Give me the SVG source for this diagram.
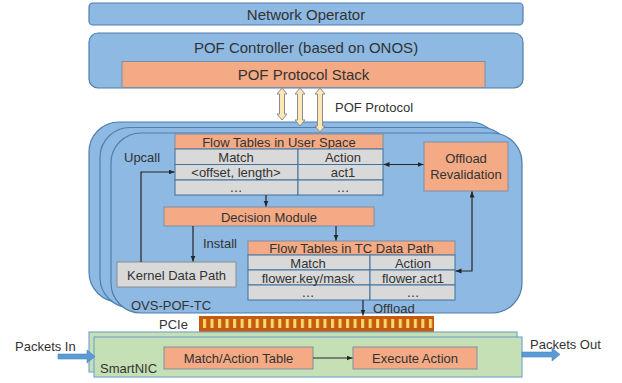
<svg xmlns="http://www.w3.org/2000/svg" width="622" height="383" viewBox="0 0 622 383">
<defs>
<style>
text{font-family:"Liberation Sans",Arial,sans-serif;font-size:13px;fill:#333}
.big{font-size:15px}
.c{text-anchor:middle}
.blue{fill:#8DB9E2;stroke:#4E7FAF;stroke-width:1.2}
.sal{fill:#F4AA84;stroke:#7F8FA6;stroke-width:1}
.cell{fill:#D9D9D9;stroke:#41719C;stroke-width:1}
.green{fill:#C5E0B4;stroke:#7AA6CF;stroke-width:1.2}
.cream{fill:#FFE7B8;stroke:#8C8C8C;stroke-width:1}
.blk{fill:#5B9BD5;stroke:#4E86BC;stroke-width:0.6}
.ln{fill:none;stroke:#262626;stroke-width:1.2}
</style>
<marker id="ah" markerUnits="userSpaceOnUse" markerWidth="7" markerHeight="6" refX="6" refY="2.5" orient="auto-start-reverse"><path d="M0,0 L6,2.5 L0,5 z" fill="#262626"/></marker>
<pattern id="pcie" patternUnits="userSpaceOnUse" x="202" y="0" width="7.53" height="383"><rect x="1" y="0" width="3" height="383" fill="#FFD966"/></pattern>
</defs>

<g id="network-operator">
<rect class="blue" x="89" y="3" width="434" height="22" rx="4"/>
<text class="big c" x="306" y="19.5">Network Operator</text>
</g>

<g id="pof-controller">
<rect class="blue" x="89" y="33" width="434" height="55" rx="9"/>
<text class="big c" x="306" y="53">POF Controller (based on ONOS)</text>
</g>
<g id="pof-protocol-stack">
<rect class="sal" x="122" y="61.5" width="363" height="26"/>
<text class="big c" x="303.5" y="80">POF Protocol Stack</text>
</g>

<g id="ovs-pof-tc">
<rect class="blue" x="89" y="122" width="411" height="180" rx="30"/>
<rect class="blue" x="100" y="127.5" width="411" height="180" rx="30"/>
<rect class="blue" x="111" y="133" width="411" height="180" rx="30"/>
<text x="131" y="310">OVS-POF-TC</text>
<text x="124" y="162">Upcall</text>
<text x="203" y="247.5">Install</text>
<text x="373" y="313">Offload</text>
</g>

<g id="pof-protocol-arrows">
<path class="cream" d="M282,88 L287,94 L284.5,94 L284.5,114 L287,114 L282,120 L277,114 L279.5,114 L279.5,94 L277,94 Z"/>
<path class="cream" d="M300,88 L305,94 L302.5,94 L302.5,120 L305,120 L300,126 L295,120 L297.5,120 L297.5,94 L295,94 Z"/>
<path class="cream" d="M320,88 L325,94 L322.5,94 L322.5,126 L325,126 L320,132 L315,126 L317.5,126 L317.5,94 L315,94 Z"/>
<text x="335" y="112">POF Protocol</text>
</g>

<g id="flow-tables-user-space">
<rect class="sal" x="175" y="134" width="208" height="15"/>
<text class="c" x="279" y="146.5">Flow Tables in User Space</text>
<rect class="cell" x="175" y="149" width="123" height="15.5"/>
<rect class="cell" x="298" y="149" width="85" height="15.5"/>
<rect class="cell" x="175" y="164.5" width="123" height="15.5"/>
<rect class="cell" x="298" y="164.5" width="85" height="15.5"/>
<rect class="cell" x="175" y="180" width="123" height="15"/>
<rect class="cell" x="298" y="180" width="85" height="15"/>
<text class="c" x="236" y="161.5">Match</text>
<text class="c" x="343" y="162">Action</text>
<text class="c" x="236" y="177">&lt;offset, length&gt;</text>
<text class="c" x="343" y="177">act1</text>
<text class="c" x="236" y="192">…</text>
<text class="c" x="343" y="192">…</text>
</g>

<g id="offload-revalidation">
<rect class="sal" x="424" y="142" width="84" height="49"/>
<text class="c" x="466" y="162.5">Offload</text>
<text class="c" x="466" y="178.5">Revalidation</text>
</g>

<g id="decision-module">
<rect class="sal" x="164" y="207" width="210" height="19"/>
<text class="c" x="269" y="221.5">Decision Module</text>
</g>

<g id="kernel-data-path">
<rect x="117" y="262" width="119" height="25" fill="#D9D9D9" stroke="#8C8C8C" stroke-width="1"/>
<text class="c" x="176.5" y="279.5">Kernel Data Path</text>
</g>

<g id="flow-tables-tc">
<rect class="sal" x="248" y="241" width="207" height="14"/>
<text class="c" x="351.5" y="252.5">Flow Tables in TC Data Path</text>
<rect class="cell" x="248" y="255" width="122" height="15"/>
<rect class="cell" x="370" y="255" width="85" height="15"/>
<rect class="cell" x="248" y="270" width="122" height="15"/>
<rect class="cell" x="370" y="270" width="85" height="15"/>
<rect class="cell" x="248" y="285" width="122" height="15"/>
<rect class="cell" x="370" y="285" width="85" height="15"/>
<text class="c" x="308" y="267.5">Match</text>
<text class="c" x="413" y="267.5">Action</text>
<text class="c" x="308" y="282.5">flower.key/mask</text>
<text class="c" x="413" y="282.5">flower.act1</text>
<text class="c" x="308" y="297">…</text>
<text class="c" x="413" y="297">…</text>
</g>

<g id="pcie">
<rect x="199" y="316" width="235" height="16" fill="#C55A11"/>
<rect x="202" y="319" width="231" height="9" fill="url(#pcie)"/>
<text x="159" y="329">PCIe</text>
</g>

<g id="smartnic">
<rect class="green" x="89" y="332" width="428" height="40"/>
<rect class="green" x="94" y="337" width="428" height="40"/>
<text x="100" y="373">SmartNIC</text>
</g>
<g id="match-action-table">
<rect class="sal" x="164" y="347" width="149" height="22"/>
<text class="c" x="238.5" y="362.5">Match/Action Table</text>
</g>
<g id="execute-action">
<rect class="sal" x="353" y="347" width="124" height="22"/>
<text class="c" x="415" y="362.5">Execute Action</text>
</g>

<g id="packets-in">
<path class="blk" d="M58,354 L87,354 L87,350 L95,356.5 L87,363 L87,359 L58,359 Z"/>
<text x="15" y="351">Packets In</text>
</g>
<g id="packets-out">
<path class="blk" d="M522,352 L552,352 L552,348 L560,354.5 L552,361 L552,357 L522,357 Z"/>
<text x="530" y="349">Packets Out</text>
</g>

<g id="connectors">
<path class="ln" d="M141,262 L141,172 L174.5,172" marker-end="url(#ah)"/>
<path class="ln" d="M383.5,164.5 L423.5,164.5" marker-start="url(#ah)" marker-end="url(#ah)"/>
<path class="ln" d="M266,195 L266,206.5" marker-end="url(#ah)"/>
<path class="ln" d="M193,226 L193,261.5" marker-end="url(#ah)"/>
<path class="ln" d="M336,226 L336,240.5" marker-end="url(#ah)"/>
<path class="ln" d="M472,191.5 L472,271 L455.5,271" marker-start="url(#ah)" marker-end="url(#ah)"/>
<path class="ln" d="M363,300 L363,315.5" marker-end="url(#ah)"/>
<path class="ln" d="M313,358 L352.5,358" marker-end="url(#ah)"/>
</g>
</svg>
